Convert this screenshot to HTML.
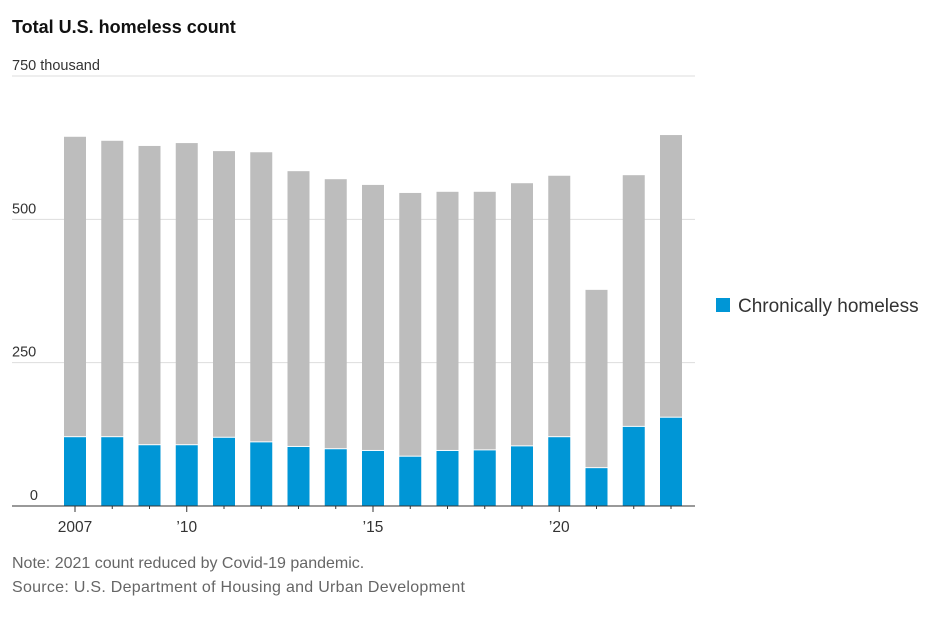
<!DOCTYPE html>
<html><head><meta charset="utf-8"><style>
body{margin:0;background:#fff;font-family:"Liberation Sans",sans-serif;}
svg text{font-family:"Liberation Sans",sans-serif;}
</style></head><body>
<svg width="936" height="612">
<text x="12" y="33" font-size="18" font-weight="bold" fill="#111">Total U.S. homeless count</text>
<g id="grid"></g>
<g id="bars"></g>
<g id="axis"></g>
<g>
<rect x="716" y="298" width="14" height="14" fill="#0096d6"/>
<text x="738" y="312" font-size="19" fill="#333">Chronically homeless</text>
</g>
<text x="12" y="568" font-size="16" fill="#666">Note: 2021 count reduced by Covid-19 pandemic.</text>
<text x="12" y="592" font-size="16" fill="#666" textLength="453">Source: U.S. Department of Housing and Urban Development</text>
</svg>
<script>
const years=[2007,2008,2009,2010,2011,2012,2013,2014,2015,2016,2017,2018,2019,2020,2021,2022,2023];
const totals=[644,637,628,633,619,617,584,570,560,546,548,548,563,576,377,577,647];
const chronic=[120,120,106,106,119,111,103,99,96,86,96,97,104,120,66,138,154];
const yTicks=[0,250,500,750];
const yTickLabels=['0','250','500','750 thousand'];
const xLabelYears=[2007,2010,2015,2020];
const xLabels=['2007','\u201910','\u201915','\u201920'];
const NS='http://www.w3.org/2000/svg';
const y0=506,pxPer=430/750,x0=75,step=37.25,bw=22;
const y=v=>y0-v*pxPer;
const x=i=>x0+i*step;
function mk(t,a,p){const e=document.createElementNS(NS,t);for(const k in a)e.setAttribute(k,a[k]);p.appendChild(e);return e;}
const grid=document.getElementById('grid'),bars=document.getElementById('bars'),axis=document.getElementById('axis');
yTicks.forEach((v,i)=>{
 if(v>0){const l=mk('line',{x1:12,x2:695,y1:y(v),y2:y(v),stroke:'#ddd','stroke-width':1},grid);
 
 }
 const t=mk('text',{x:v===0?38:12,y:y(v)-6,'font-size':14.5,fill:'#333','text-anchor':v===0?'end':'start'},grid);
 t.textContent=yTickLabels[i];
 
 
});
years.forEach((yr,i)=>{
 const g=mk('rect',{x:x(i)-bw/2,y:y(totals[i]),width:bw,height:(totals[i]-chronic[i])*pxPer-1,fill:'#bdbdbd'},bars);
 
 
 const b=mk('rect',{x:x(i)-bw/2,y:y(chronic[i]),width:bw,height:chronic[i]*pxPer,fill:'#0096d6'},bars);
 
 
 const major=xLabelYears.includes(yr);
 const tk=mk('line',{x1:x(i),x2:x(i),y1:y0,y2:y0+(major?6:3),stroke:'#333','stroke-width':1},axis);
 
 
});
const ax=mk('line',{x1:12,x2:695,y1:y0,y2:y0,stroke:'#333','stroke-width':1},axis);


xLabelYears.forEach((yr,j)=>{
 const i=years.indexOf(yr);
 const t=mk('text',{x:x(i),y:532,'font-size':15.5,fill:'#333','text-anchor':'middle'},axis);
 t.textContent=xLabels[j];
 
 
});
</script>
</body></html>
